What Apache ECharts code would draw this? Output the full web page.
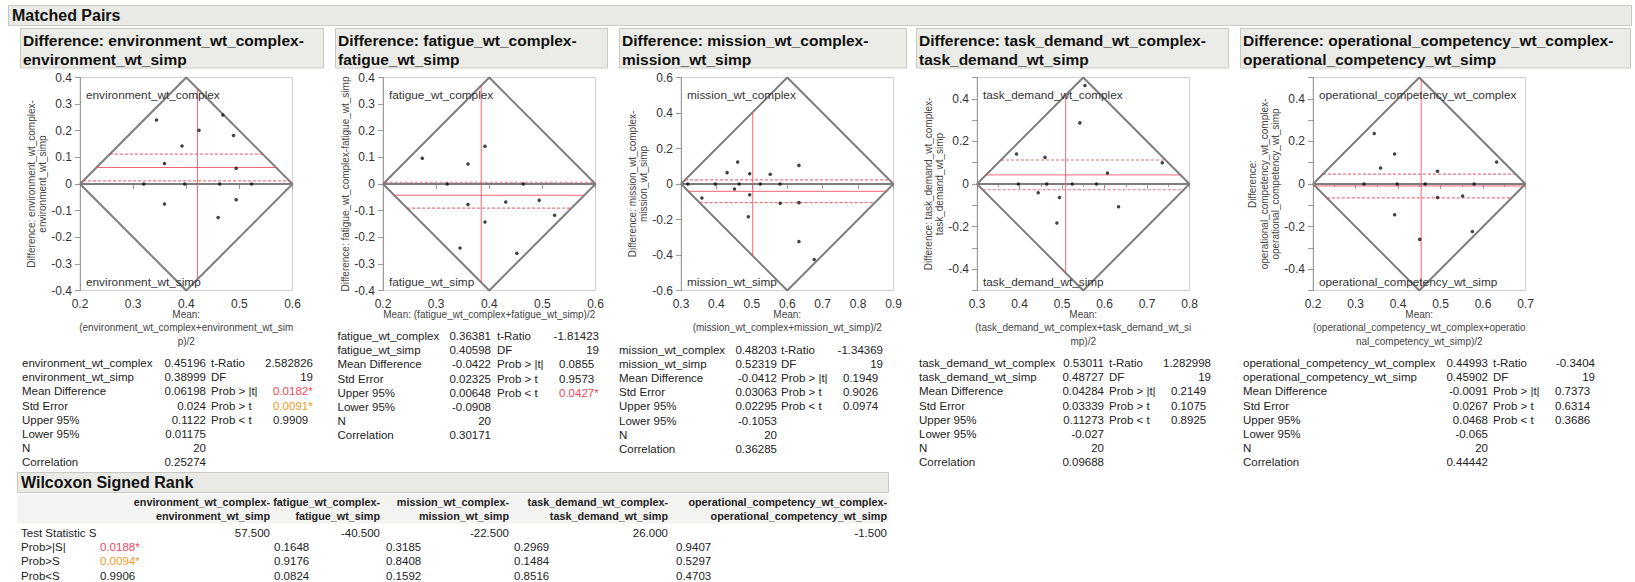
<!DOCTYPE html>
<html><head><meta charset="utf-8">
<script src="https://cdn.jsdelivr.net/npm/echarts@6/dist/echarts.min.js"></script>
<style>html,body{margin:0;padding:0;background:#fff}#c{width:1635px;height:582px}</style>
</head><body><div id="c"></div>
<script>
// ---------------- data ----------------
const pairNames = ['environment', 'fatigue', 'mission', 'task_demand', 'operational_competency'];
const complexMean = [0.45196, 0.36381, 0.48203, 0.53011, 0.44993];
const simpMean = [0.38999, 0.40598, 0.52319, 0.48727, 0.45902];
const meanDiff = [0.06198, -0.0422, -0.0412, 0.04284, -0.0091];
const stdError = [0.024, 0.02325, 0.03063, 0.03339, 0.0267];
const upper95 = [0.1122, 0.00648, 0.02295, 0.11273, 0.0468];
const lower95 = [0.01175, -0.0908, -0.1053, -0.027, -0.065];
const nObs = [20, 20, 20, 20, 20];
const correlation = [0.25274, 0.30171, 0.36285, 0.09688, 0.44442];
const tRatio = [2.582826, -1.81423, -1.34369, 1.282998, -0.3404];
const dfVals = [19, 19, 19, 19, 19];
const probAbsT = [0.0182, 0.0855, 0.1949, 0.2149, 0.7373];
const probGtT = [0.0091, 0.9573, 0.9026, 0.1075, 0.6314];
const probLtT = [0.9909, 0.0427, 0.0974, 0.8925, 0.3686];

// axis ranges / ticks
const xMin = [0.2, 0.2, 0.3, 0.3, 0.2];
const xMax = [0.6, 0.6, 0.9, 0.8, 0.7];
const yMin = [-0.4, -0.4, -0.6, -0.5, -0.5];
const yMax = [0.4, 0.4, 0.6, 0.5, 0.5];
const xTickStep = [0.1, 0.1, 0.1, 0.1, 0.1];
const yTickStep = [0.1, 0.1, 0.2, 0.1, 0.1];
const yLabelStep = [0.1, 0.1, 0.2, 0.2, 0.2];
const xMinorTicks = [false, false, false, true, true];

// scatter points: mean of the pair (x) and difference (y)
const envMean = [0.344, 0.469, 0.424, 0.489, 0.392, 0.359, 0.494, 0.320, 0.397, 0.463, 0.523, 0.359, 0.494, 0.460];
const envDiff = [0.240, 0.259, 0.202, 0.182, 0.143, 0.077, 0.059, 0, 0, 0, 0, -0.075, -0.059, -0.126];
const fatMean = [0.274, 0.360, 0.392, 0.321, 0.464, 0.360, 0.431, 0.494, 0.523, 0.392, 0.345, 0.452];
const fatDiff = [0.097, 0.075, 0.142, 0, 0, -0.077, -0.068, -0.061, -0.117, -0.143, -0.240, -0.260];
const misMean = [0.319, 0.359, 0.397, 0.430, 0.460, 0.451, 0.464, 0.494, 0.494, 0.490, 0.524, 0.552, 0.580, 0.580, 0.633, 0.633, 0.633, 0.676];
const misDiff = [0, -0.079, 0, 0.064, 0.124, -0.028, 0, 0.058, -0.060, -0.184, 0, 0.055, 0, -0.109, 0.105, -0.105, -0.324, -0.425];
const taskMean = [0.554, 0.542, 0.393, 0.460, 0.736, 0.607, 0.397, 0.464, 0.524, 0.581, 0.444, 0.494, 0.633, 0.488];
const taskDiff = [0.462, 0.287, 0.141, 0.125, 0.100, 0.052, 0, 0, 0, 0, -0.041, -0.063, -0.107, -0.183];
const opMean = [0.344, 0.392, 0.359, 0.493, 0.632, 0.320, 0.398, 0.464, 0.579, 0.493, 0.552, 0.392, 0.451, 0.575];
const opDiff = [0.237, 0.141, 0.075, 0.060, 0.103, 0, 0, 0, 0, -0.063, -0.056, -0.144, -0.260, -0.223];
const pointMeans = [envMean, fatMean, misMean, taskMean, opMean];
const pointDiffs = [envDiff, fatDiff, misDiff, taskDiff, opDiff];

// text lines
const headerLines = [
  ['Difference: environment_wt_complex-', 'environment_wt_simp'],
  ['Difference: fatigue_wt_complex-', 'fatigue_wt_simp'],
  ['Difference: mission_wt_complex-', 'mission_wt_simp'],
  ['Difference: task_demand_wt_complex-', 'task_demand_wt_simp'],
  ['Difference: operational_competency_wt_complex-', 'operational_competency_wt_simp']
];
const yTitleLines = [
  ['Difference: environment_wt_complex-', 'environment_wt_simp'],
  ['Difference: fatigue_wt_complex-fatigue_wt_simp'],
  ['Difference: mission_wt_complex-', 'mission_wt_simp'],
  ['Difference: task_demand_wt_complex-', 'task_demand_wt_simp'],
  ['Difference:', 'operational_competency_wt_complex-', 'operational_competency_wt_simp']
];
const xTitleLines = [
  ['Mean:', '(environment_wt_complex+environment_wt_sim', 'p)/2'],
  ['Mean: (fatigue_wt_complex+fatigue_wt_simp)/2'],
  ['Mean:', '(mission_wt_complex+mission_wt_simp)/2'],
  ['Mean:', '(task_demand_wt_complex+task_demand_wt_si', 'mp)/2'],
  ['Mean:', '(operational_competency_wt_complex+operatio', 'nal_competency_wt_simp)/2']
];
const rowLabelsTail = ['Mean Difference', 'Std Error', 'Upper 95%', 'Lower 95%', 'N', 'Correlation'];
const statLabels = ['t-Ratio', 'DF', 'Prob > |t|', 'Prob > t', 'Prob < t'];

// Wilcoxon signed rank
const wilcoxonRows = ['Test Statistic S', 'Prob>|S|', 'Prob>S', 'Prob<S'];
const testStatS = [57.5, -40.5, -22.5, 26.0, -1.5];
const probAbsS = [0.0188, 0.1648, 0.3185, 0.2969, 0.9407];
const probGtS = [0.0094, 0.9176, 0.8408, 0.1484, 0.5297];
const probLtS = [0.9906, 0.0824, 0.1592, 0.8516, 0.4703];

// ---------------- layout ----------------
const FONT = '"Liberation Sans", Arial, Helvetica, sans-serif';
const gridLeft = [80, 383, 681, 977, 1313];
const gridTop = 77.5, gridW = 212.5, gridH = 213;
const boxL = [20, 335, 619, 916, 1240];
const boxR = [323, 607, 906, 1228, 1630];
const labelX = [22, 337.5, 619, 919, 1243];
const valRight = [206, 491, 777, 1104, 1488];
const statX = [211, 497, 781, 1109, 1493];
const pX = [273, 559, 843, 1171, 1555];
const statRight = [313, 599, 883, 1211, 1595];
const wColRight = [270, 380, 509, 668, 887];
const wProbLeft = [100, 274, 386, 514, 676];

const RED = '#ec4a5c', ORANGE = '#f39b1c', TXT = '#222';
const TS = 11.5;

function txt(x, y, text, o) {
  o = o || {};
  const al = o.align || 'left', va = o.va || 'middle';
  return {
    type: 'text', x: x, y: y, rotation: o.rot || 0, silent: true, z: 100,
    style: {
      text: text, fill: o.fill || TXT,
      font: (o.weight || 'normal') + ' ' + (o.size || 12) + 'px ' + FONT,
      align: al, verticalAlign: va, textAlign: al, textVerticalAlign: va
    }
  };
}
function rect(x, y, w, h, fill, stroke) {
  return { type: 'rect', silent: true, z: 1, shape: { x: x, y: y, width: w, height: h },
    style: { fill: fill, stroke: stroke, lineWidth: 1 } };
}
function pfmt(p) { return p.toFixed(4) + (p < 0.05 ? '*' : ''); }
function pcol(p) { return p < 0.01 ? ORANGE : (p < 0.05 ? RED : TXT); }
function tickFmt(step) {
  return function (v) {
    const k = Math.round(v / 0.1);
    const s = Math.round(step / 0.1);
    if (k % s !== 0) return '';
    return String(Math.round(v * 100) / 100);
  };
}

const grids = [], xAxes = [], yAxes = [], series = [], graphics = [];

// top header bar
graphics.push(rect(8.5, 5.5, 1623, 20, '#e9e9e5', '#c9c9c4'));
graphics.push(txt(12, 15.5, 'Matched Pairs', { weight: 'bold', size: 16, fill: '#111' }));

for (let i = 0; i < 5; i++) {
  const gl = gridLeft[i];
  grids.push({ left: gl, top: gridTop, width: gridW, height: gridH, show: true,
    borderColor: '#d2d2d2', borderWidth: 1, backgroundColor: 'transparent' });
  const axLine = { show: true, lineStyle: { color: '#9a9a9a', width: 1 } };
  xAxes.push({ type: 'value', gridIndex: i, min: xMin[i], max: xMax[i], interval: xTickStep[i],
    axisLine: axLine, axisTick: { show: true, length: 5, lineStyle: { color: '#9a9a9a' } },
    minorTick: { show: xMinorTicks[i], splitNumber: 2, length: 3, lineStyle: { color: '#9a9a9a' } },
    splitLine: { show: false },
    axisLabel: { fontSize: 12, color: '#333', margin: 7, fontFamily: FONT, formatter: tickFmt(xTickStep[i]) } });
  yAxes.push({ type: 'value', gridIndex: i, min: yMin[i], max: yMax[i], interval: yTickStep[i],
    axisLine: axLine, axisTick: { show: true, length: 5, lineStyle: { color: '#9a9a9a' } },
    splitLine: { show: false },
    axisLabel: { fontSize: 12, color: '#333', margin: 8, fontFamily: FONT, formatter: tickFmt(yLabelStep[i]) } });

  const xm = (xMin[i] + xMax[i]) / 2, h = xMax[i] - xMin[i];
  const hw = (y) => (h - Math.abs(y)) / 2;
  const common = { type: 'line', xAxisIndex: i, yAxisIndex: i, symbol: 'none', silent: true, clip: false, animation: false };
  // diamond
  series.push(Object.assign({}, common, { z: 3, data: [[xMin[i], 0], [xm, h], [xMax[i], 0], [xm, -h], [xMin[i], 0]],
    lineStyle: { color: '#7d7d7d', width: 2 } }));
  series.push(Object.assign({}, common, { z: 3, data: [[xMin[i], 0], [xMax[i], 0]], lineStyle: { color: '#7d7d7d', width: 2 } }));
  // mean difference and CI
  const md = meanDiff[i];
  series.push(Object.assign({}, common, { z: 4, data: [[xm - hw(md), md], [xm + hw(md), md]], lineStyle: { color: RED, width: 1, opacity: 0.85 } }));
  [upper95[i], lower95[i]].forEach(function (v) {
    series.push(Object.assign({}, common, { z: 4, data: [[xm - hw(v), v], [xm + hw(v), v]],
      lineStyle: { color: RED, width: 1.2, type: [3, 2], opacity: 0.8 } }));
  });
  // vertical at mean of means
  const mm = (complexMean[i] + simpMean[i]) / 2;
  const top = h - 2 * Math.abs(mm - xm);
  series.push(Object.assign({}, common, { z: 4, data: [[mm, top], [mm, -top]], lineStyle: { color: RED, width: 1, opacity: 0.85 } }));
  // points
  series.push({ type: 'scatter', xAxisIndex: i, yAxisIndex: i, symbolSize: 3.5, z: 6, animation: false, silent: true,
    itemStyle: { color: '#111' }, data: pointMeans[i].map((x, k) => [x, pointDiffs[i][k]]) });

  // section header box
  graphics.push(rect(boxL[i] + 0.5, 28.5, boxR[i] - boxL[i], 39.5, '#ebebe7', '#c9c9c4'));
  graphics.push(txt(boxL[i] + 3, 40, headerLines[i][0], { weight: 'bold', size: 15.5, fill: '#111' }));
  graphics.push(txt(boxL[i] + 3, 59, headerLines[i][1], { weight: 'bold', size: 15.5, fill: '#111' }));

  // inner labels
  const nm = pairNames[i];
  graphics.push(txt(gl + 6, gridTop + 17.5, nm + '_wt_complex', { size: 11.8, fill: '#333' }));
  graphics.push(txt(gl + 6, gridTop + gridH - 8.5, nm + '_wt_simp', { size: 11.8, fill: '#333' }));

  // y axis title
  const yl = yTitleLines[i];
  yl.forEach(function (s, k) {
    const x = gl - 37.5 - (yl.length - 1 - k) * 11.5;
    graphics.push(txt(x, gridTop + gridH / 2, s, { size: 10, fill: '#444', align: 'center', rot: Math.PI / 2 }));
  });
  // x axis title
  const xl = xTitleLines[i];
  xl.forEach(function (s, k) {
    graphics.push(txt(gl + gridW / 2, 314 + k * 13.5, s, { size: 10, fill: '#444', align: 'center' }));
  });

  // stats table
  const r0 = 314 + (xl.length - 1) * 13.5 + 22;
  const rs = 14.2;
  const rowLabels = [nm + '_wt_complex', nm + '_wt_simp'].concat(rowLabelsTail);
  const vals = [complexMean[i], simpMean[i], meanDiff[i], stdError[i], upper95[i], lower95[i], nObs[i], correlation[i]];
  rowLabels.forEach(function (s, k) {
    const y = r0 + k * rs;
    graphics.push(txt(labelX[i], y, s, { size: TS }));
    graphics.push(txt(valRight[i], y, String(vals[k]), { size: TS, align: 'right' }));
  });
  statLabels.forEach(function (s, k) {
    graphics.push(txt(statX[i], r0 + k * rs, s, { size: TS }));
  });
  graphics.push(txt(statRight[i], r0, String(tRatio[i]), { size: TS, align: 'right' }));
  graphics.push(txt(statRight[i], r0 + rs, String(dfVals[i]), { size: TS, align: 'right' }));
  [probAbsT[i], probGtT[i], probLtT[i]].forEach(function (p, k) {
    graphics.push(txt(pX[i], r0 + (k + 2) * rs, pfmt(p), { size: TS, fill: pcol(p) }));
  });
}

// Wilcoxon table
graphics.push(rect(17.5, 472.5, 871, 20, '#e9e9e5', '#c9c9c4'));
graphics.push(txt(21, 482.5, 'Wilcoxon Signed Rank', { weight: 'bold', size: 16, fill: '#111' }));
graphics.push(rect(17.5, 494.5, 871, 29, '#f3f3f1', null));
for (let j = 0; j < 5; j++) {
  const nm = pairNames[j];
  graphics.push(txt(wColRight[j], 502, nm + '_wt_complex-', { weight: 'bold', size: 10.8, align: 'right' }));
  graphics.push(txt(wColRight[j], 515.5, nm + '_wt_simp', { weight: 'bold', size: 10.8, align: 'right' }));
  graphics.push(txt(wColRight[j], 533, testStatS[j].toFixed(3), { size: TS, align: 'right' }));
  [probAbsS[j], probGtS[j], probLtS[j]].forEach(function (p, k) {
    graphics.push(txt(wProbLeft[j], 533 + (k + 1) * 14.2, pfmt(p), { size: TS, fill: pcol(p) }));
  });
}
wilcoxonRows.forEach(function (s, k) {
  graphics.push(txt(21, 533 + k * 14.2, s, { size: TS }));
});

const chart = echarts.init(document.getElementById('c'), null, { renderer: 'svg', width: 1635, height: 582 });
chart.setOption({
  animation: false,
  backgroundColor: '#ffffff',
  grid: grids, xAxis: xAxes, yAxis: yAxes, series: series,
  graphic: { elements: graphics }
});
</script>
</body></html>
